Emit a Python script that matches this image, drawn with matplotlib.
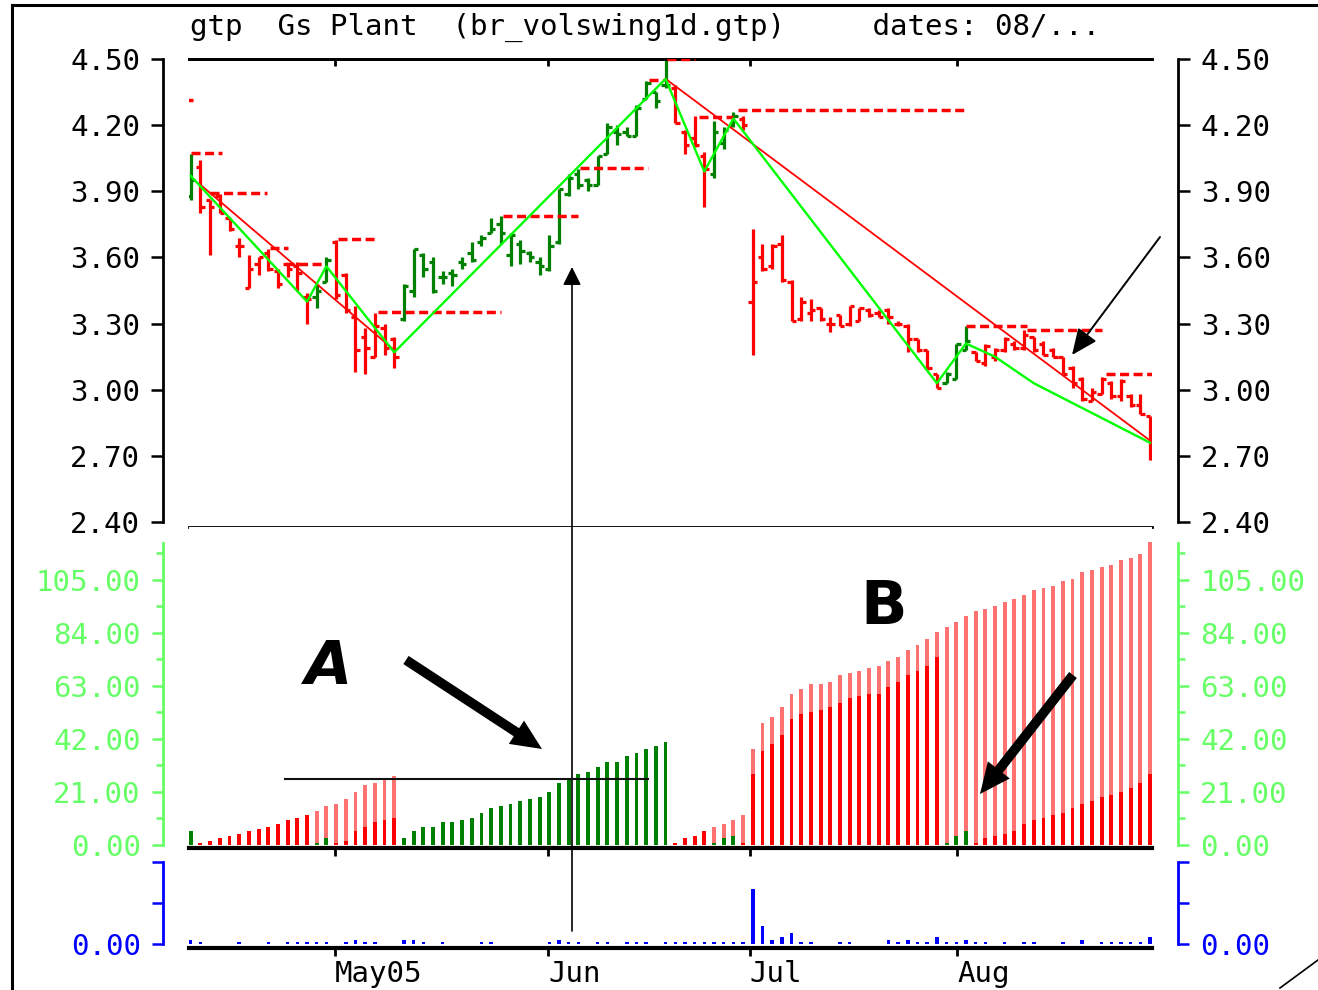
import numpy as np
import matplotlib.pyplot as plt
from matplotlib.lines import Line2D
from matplotlib.patches import FancyArrowPatch

# daily bars (Apr 11 .. Aug 30 2005, index = trading day)
bar_open = [3.88, 4.01, 3.86, 3.88, 3.78, 3.65, 3.46, 3.57, 3.62, 3.54,
            3.57, 3.56, 3.42, 3.42, 3.49, 3.67, 3.52, 3.33, 3.24, 3.15,
            3.28, 3.23, 3.32, 3.45, 3.61, 3.58, 3.51, 3.53, 3.58, 3.62,
            3.67, 3.71, 3.75, 3.61, 3.66, 3.62, 3.58, 3.55, 3.67, 3.89,
            3.98, 3.95, 3.93, 4.07, 4.17, 4.17, 4.15, 4.32, 4.35, 4.38,
            4.37, 4.17, 4.14, 4.06, 3.98, 4.12, 4.20, 4.23, 3.40, 3.60,
            3.56, 3.66, 3.49, 3.32, 3.35, 3.37, 3.30, 3.34, 3.30, 3.31,
            3.36, 3.35, 3.36, 3.30, 3.29, 3.23, 3.18, 3.07, 3.03, 3.05,
            3.18, 3.17, 3.12, 3.15, 3.18, 3.21, 3.19, 3.24, 3.21, 3.18,
            3.15, 3.10, 3.05, 2.95, 2.98, 3.03, 2.97, 2.97, 2.93, 2.88]
bar_high = [4.07, 4.04, 3.86, 3.89, 3.78, 3.69, 3.61, 3.60, 3.64, 3.55,
            3.57, 3.58, 3.44, 3.48, 3.60, 3.68, 3.53, 3.38, 3.28, 3.35,
            3.30, 3.24, 3.48, 3.64, 3.62, 3.60, 3.54, 3.55, 3.60, 3.67,
            3.70, 3.78, 3.79, 3.71, 3.68, 3.63, 3.60, 3.70, 3.91, 3.98,
            4.00, 3.96, 4.06, 4.21, 4.20, 4.19, 4.29, 4.40, 4.35, 4.50,
            4.38, 4.18, 4.24, 4.08, 4.22, 4.19, 4.26, 4.24, 3.73, 3.66,
            3.66, 3.70, 3.50, 3.42, 3.41, 3.37, 3.33, 3.34, 3.38, 3.37,
            3.37, 3.36, 3.37, 3.31, 3.30, 3.23, 3.18, 3.07, 3.08, 3.21,
            3.29, 3.17, 3.21, 3.19, 3.24, 3.22, 3.27, 3.24, 3.22, 3.19,
            3.15, 3.11, 3.06, 3.01, 3.06, 3.04, 3.05, 2.98, 2.98, 2.88]
bar_low = [3.86, 3.80, 3.61, 3.80, 3.72, 3.60, 3.46, 3.52, 3.54, 3.46,
           3.51, 3.45, 3.30, 3.37, 3.49, 3.41, 3.35, 3.08, 3.07, 3.15,
           3.16, 3.10, 3.31, 3.42, 3.51, 3.44, 3.48, 3.47, 3.55, 3.58,
           3.65, 3.71, 3.66, 3.56, 3.57, 3.58, 3.52, 3.54, 3.66, 3.88,
           3.91, 3.90, 3.93, 4.07, 4.11, 4.15, 4.15, 4.32, 4.28, 4.37,
           4.21, 4.07, 4.10, 3.83, 3.96, 4.09, 4.19, 4.18, 3.16, 3.54,
           3.55, 3.49, 3.31, 3.31, 3.31, 3.31, 3.26, 3.29, 3.29, 3.31,
           3.33, 3.33, 3.30, 3.29, 3.17, 3.17, 3.09, 3.01, 3.03, 3.05,
           3.18, 3.13, 3.11, 3.13, 3.17, 3.18, 3.18, 3.17, 3.16, 3.15,
           3.07, 3.01, 2.95, 2.95, 2.98, 2.96, 2.95, 2.92, 2.89, 2.68]
bar_close = [3.95, 3.83, 3.83, 3.80, 3.73, 3.65, 3.55, 3.60, 3.55, 3.48,
             3.55, 3.53, 3.41, 3.45, 3.59, 3.43, 3.36, 3.18, 3.19, 3.29,
             3.19, 3.15, 3.47, 3.64, 3.55, 3.45, 3.51, 3.52, 3.57, 3.59,
             3.69, 3.73, 3.71, 3.70, 3.63, 3.60, 3.56, 3.65, 3.91, 3.96,
             3.93, 3.93, 4.06, 4.19, 4.16, 4.15, 4.28, 4.39, 4.31, 4.38,
             4.21, 4.11, 4.11, 4.00, 4.17, 4.18, 4.24, 4.20, 3.49, 3.55,
             3.65, 3.50, 3.31, 3.40, 3.36, 3.32, 3.30, 3.29, 3.38, 3.37,
             3.34, 3.33, 3.33, 3.30, 3.23, 3.18, 3.10, 3.01, 3.07, 3.21,
             3.22, 3.13, 3.20, 3.18, 3.23, 3.19, 3.25, 3.18, 3.16, 3.15,
             3.07, 3.03, 2.96, 2.99, 3.05, 2.97, 3.04, 2.93, 2.89, 2.69]
# g = long (dark green), r = short (red)
bar_side = ("g" + "rrrrrrrrrrrr" + "gg" + "rrrrrrr"
            + "gggggggggggggggggggggggggggg" + "rrrr" + "ggg"
            + "rrrrrrrrrrrrrrrrrrrrr" + "ggg" + "rrrrrrrrrrrrrrrrrrr")

# swing lines
green_ma_x = [0, 12, 14, 21, 49, 53, 56, 77, 80, 83, 87, 91, 95, 99]
green_ma_y = [3.97, 3.40, 3.56, 3.17, 4.41, 3.99, 4.23, 3.03, 3.21, 3.15, 3.03, 2.94, 2.85, 2.76]
red_ma1_x = [1, 21]
red_ma1_y = [3.93, 3.18]
red_ma2_x = [49, 99]
red_ma2_y = [4.41, 2.77]

# stop levels (red dashes)
stop_start = [-0.5, 0.0, 2.0, 8.2, 9.7, 15.2, 19.3, 32.2, 40.2, 47.3, 49.1, 52.5, 56.5, 80.0, 86.3, 94.5]
stop_end = [0.2, 3.2, 7.9, 10.0, 13.9, 19.2, 32.0, 40.0, 47.2, 48.8, 52.0, 56.0, 79.9, 86.3, 94.0, 99.2]
stop_level = [4.314, 4.074, 3.892, 3.643, 3.57, 3.684, 3.353, 3.79, 4.006, 4.405, 4.50, 4.236,
              4.269, 3.289, 3.271, 3.071]

# volume panel: bar of the day colour + cumulative swing volume (salmon)
vol_bar = [5.5, 0.8, 1.6, 2.8, 3.6, 4.4, 5.5, 6.3, 7.1, 8.3,
           9.9, 10.7, 11.9, 0.8, 2.8, 0.8, 1.6, 5.5, 7.1, 9.1,
           9.9, 10.7, 2.8, 5.5, 7.1, 7.1, 9.1, 9.1, 9.9, 10.7,
           12.7, 14.7, 15.4, 16.2, 17.4, 18.2, 19.0, 21.0, 24.6, 25.7,
           28.1, 28.9, 30.9, 32.9, 32.9, 35.2, 36.4, 38.0, 39.2, 40.8,
           0.8, 2.8, 3.6, 5.5, 0.8, 2.8, 3.6, 0.8, 28.1, 37.2,
           40.0, 43.6, 49.9, 51.9, 52.7, 53.5, 54.7, 56.2, 58.2, 59.0,
           59.8, 59.8, 62.6, 64.5, 67.3, 68.9, 70.9, 74.4, 0.8, 3.6,
           5.5, 0.8, 2.8, 3.6, 4.4, 5.5, 8.3, 9.9, 10.7, 11.9,
           12.7, 14.7, 16.2, 17.4, 19.0, 19.8, 21.0, 22.6, 24.6, 28.1]
vol_swing = [0, 0, 0, 0, 0, 0, 0, 0, 0, 0,
             0, 0, 0, 13.5, 15.4, 16.2, 18.2, 21.0, 23.8, 24.6,
             25.7, 27.3, 0, 0, 0, 0, 0, 0, 0, 0,
             0, 0, 0, 0, 0, 0, 0, 0, 0, 0,
             0, 0, 0, 0, 0, 0, 0, 0, 0, 0,
             0, 0, 0, 0, 7.1, 8.3, 9.9, 11.9, 38.0, 48.3,
             50.7, 54.7, 59.8, 61.8, 63.8, 63.8, 64.5, 67.3, 68.1, 68.9,
             70.1, 70.9, 72.9, 74.4, 77.2, 79.2, 81.6, 84.4, 86.3, 88.3,
             90.7, 92.7, 93.5, 94.6, 96.2, 97.4, 99.0, 101.0, 101.8, 102.6,
             104.5, 105.3, 108.1, 108.9, 110.1, 110.9, 112.9, 113.7, 115.2, 120.0]

# blue panel (sparse)
blue_idx = [0, 1, 5, 8, 10, 11, 12, 13, 14, 16, 17, 18, 19, 22, 23, 24, 26, 30, 31,
            37, 38, 39, 40, 42, 43, 45, 46, 47, 49, 50, 51, 52, 53, 54, 55, 56, 57,
            58, 59, 60, 61, 62, 63, 64, 67, 68, 72, 73, 74, 75, 76, 77, 78, 79, 80,
            81, 82, 84, 86, 87, 90, 92, 94, 95, 96, 97, 98, 99]
blue_val = [0.10, 0.05, 0.05, 0.05, 0.05, 0.05, 0.05, 0.05, 0.05, 0.05, 0.10, 0.05, 0.05,
            0.10, 0.10, 0.05, 0.05, 0.05, 0.05,
            0.05, 0.10, 0.05, 0.05, 0.05, 0.05, 0.05, 0.05, 0.05, 0.05, 0.05, 0.05, 0.05,
            0.05, 0.05, 0.05, 0.05, 0.05,
            1.34, 0.44, 0.10, 0.17, 0.27, 0.05, 0.05, 0.05, 0.05, 0.10, 0.05, 0.10, 0.05,
            0.05, 0.17, 0.05, 0.05, 0.10,
            0.05, 0.05, 0.05, 0.05, 0.05, 0.05, 0.10, 0.05, 0.05, 0.05, 0.05, 0.05, 0.17]

price_ticks = [2.40, 2.70, 3.00, 3.30, 3.60, 3.90, 4.20, 4.50]
vol_ticks = [0, 21, 42, 63, 84, 105]
vol_minor = [10.5, 31.5, 52.5, 73.5, 94.5, 115.5]
month_pos = [14.9, 36.9, 57.7, 79.1]
month_lab = ['May05', 'Jun', 'Jul', 'Aug']
title = "gtp  Gs Plant  (br_volswing1d.gtp)     dates: 08/..."

RED = '#ff0000'
DKGREEN = '#008000'
SALMON = '#ff7272'
LIME = '#00ff00'
VGREEN = '#66ff66'
BLUE = '#0000ff'

plt.rcParams['font.family'] = 'DejaVu Sans Mono'

W, H = 1318, 990
fig = plt.figure(figsize=(W / 100, H / 100), dpi=100)


def px(x, y):
    return x / W, 1 - y / H


def box(x0, y0, x1, y1):
    return [x0 / W, 1 - y1 / H, (x1 - x0) / W, (y1 - y0) / H]


x = np.arange(len(bar_open))
cols = [RED if s == 'r' else DKGREEN for s in bar_side]
XLIM = (-0.18, 99.2)
OUT = ('outward', 26 * 0.72)
FS = 21

# --- price panel ---
ax_p = fig.add_axes(box(189, 59, 1152, 527))
ax_p.set_xlim(*XLIM)
ax_p.set_ylim(2.378, 4.5)
ax_p.vlines(x, bar_low, bar_high, colors=cols, lw=2.3, zorder=2)
ax_p.hlines(bar_open, x - 0.45, x, colors=cols, lw=2.3, zorder=2)
ax_p.hlines(bar_close, x, x + 0.45, colors=cols, lw=2.3, zorder=2)
ax_p.hlines(stop_level, stop_start, stop_end, colors=RED, lw=2.5,
            linestyles=[(0, (2.6, 1.3))], zorder=3)
ax_p.plot(red_ma1_x, red_ma1_y, color=RED, lw=1.3, zorder=4)
ax_p.plot(red_ma2_x, red_ma2_y, color=RED, lw=1.3, zorder=4)
ax_p.plot(green_ma_x, green_ma_y, color=LIME, lw=1.7, zorder=5)
for side in ['left', 'right']:
    ax_p.spines[side].set_position(OUT)
    ax_p.spines[side].set_bounds(2.4, 4.5)
    ax_p.spines[side].set_linewidth(2)
ax_p.spines['top'].set_linewidth(2)
ax_p.spines['bottom'].set_linewidth(2)
ax_p.set_yticks(price_ticks)
ax_p.yaxis.set_major_formatter('{x:.2f}')
ax_p.tick_params(axis='y', left=True, right=True, labelleft=True, labelright=True,
                 direction='out', length=8.5, width=1.8, labelsize=FS, pad=8)
ax_p.set_xticks(month_pos)
ax_p.tick_params(axis='x', labelbottom=False, direction='out', length=5.5, width=2)
sec = ax_p.secondary_xaxis('top')
sec.set_xticks(month_pos)
sec.tick_params(axis='x', direction='in', length=5, width=2, labeltop=False)
sec.spines['top'].set_linewidth(2)

fig.text(190 / W, 1 - 27 / H, title, fontsize=FS, ha='left', va='center')

# --- volume panel ---
ax_v = fig.add_axes(box(189, 527, 1152, 848))
ax_v.set_xlim(*XLIM)
ax_v.set_ylim(-1.19, 126)
ax_v.bar(x, vol_swing, width=0.4, color=SALMON, zorder=2)
ax_v.bar(x, vol_bar, width=0.4, color=cols, zorder=3)
ax_v.spines['top'].set_visible(False)
for side in ['left', 'right']:
    ax_v.spines[side].set_position(OUT)
    ax_v.spines[side].set_bounds(0, 119.7)
    ax_v.spines[side].set_color(VGREEN)
    ax_v.spines[side].set_linewidth(2)
ax_v.spines['bottom'].set_linewidth(3)
ax_v.set_yticks(vol_ticks)
ax_v.set_yticks(vol_minor, minor=True)
ax_v.yaxis.set_major_formatter('{x:.2f}')
ax_v.tick_params(axis='y', which='both', left=True, right=True, labelleft=True,
                 labelright=True, colors=VGREEN, direction='out', width=1.8)
ax_v.tick_params(axis='y', which='major', length=8, labelsize=FS, pad=8)
ax_v.tick_params(axis='y', which='minor', length=5)
ax_v.set_xticks(month_pos)
ax_v.tick_params(axis='x', labelbottom=False, direction='out', length=6, width=2)

# --- blue panel ---
ax_b = fig.add_axes(box(189, 862, 1152, 948))
ax_b.set_xlim(*XLIM)
ax_b.set_ylim(-0.098, 2.0)
ax_b.bar(blue_idx, blue_val, width=0.36, color=BLUE)
ax_b.spines['top'].set_visible(False)
for side in ['left', 'right']:
    ax_b.spines[side].set_position(OUT)
    ax_b.spines[side].set_bounds(0, 2)
    ax_b.spines[side].set_color(BLUE)
    ax_b.spines[side].set_linewidth(2)
ax_b.spines['bottom'].set_linewidth(3)
ax_b.set_yticks([0, 1, 2], ['0.00', '', ''])
ax_b.tick_params(axis='y', left=True, right=True, labelleft=True, labelright=True,
                 colors=BLUE, direction='out', length=8, width=1.8, labelsize=FS, pad=8)
ax_b.set_xticks(month_pos, month_lab)
ax_b.tick_params(axis='x', direction='out', length=6, width=2, labelsize=FS, pad=3)
for t in ax_b.get_xticklabels():
    t.set_ha('left')

# --- hand-drawn annotations ---
fig.add_artist(Line2D([12 / W, 12 / W], [0, 1 - 5 / H], color='black', lw=2.2))
fig.add_artist(Line2D([12 / W, 1], [1 - 5 / H, 1 - 5 / H], color='black', lw=2.2))
fig.add_artist(Line2D([1280 / W, 1], [1 - 988 / H, 1 - 960 / H], color='black', lw=1.2))
fig.add_artist(Line2D([285 / W, 648 / W], [1 - 779 / H, 1 - 779 / H], color='#111111', lw=1.5))
fig.add_artist(FancyArrowPatch(px(572, 931), px(572, 267), transform=fig.transFigure,
                               arrowstyle='-|>,head_length=1.1,head_width=0.55',
                               mutation_scale=10, lw=1.2, color='black',
                               shrinkA=0, shrinkB=0))
fig.add_artist(FancyArrowPatch(px(1160, 237), px(1072, 355), transform=fig.transFigure,
                               arrowstyle='-|>,head_length=1.6,head_width=0.7',
                               mutation_scale=10, lw=1.4, color='black',
                               shrinkA=0, shrinkB=0))
for a, b in [((406, 660), (542, 749)), ((1073, 675), (980, 794))]:
    fig.add_artist(FancyArrowPatch(px(*a), px(*b), transform=fig.transFigure,
                                   arrowstyle='simple,head_length=1.1,head_width=1.0,tail_width=0.35',
                                   mutation_scale=20, color='black', lw=0,
                                   shrinkA=0, shrinkB=0))
fig.text(329 / W, 1 - 684 / H, 'A', fontsize=44, fontweight='bold', style='italic',
         family='DejaVu Sans', ha='center', va='baseline')
fig.text(884 / W, 1 - 624 / H, 'B', fontsize=44, fontweight='bold',
         family='DejaVu Sans', ha='center', va='baseline')

fig.savefig('out.png', dpi=100)
